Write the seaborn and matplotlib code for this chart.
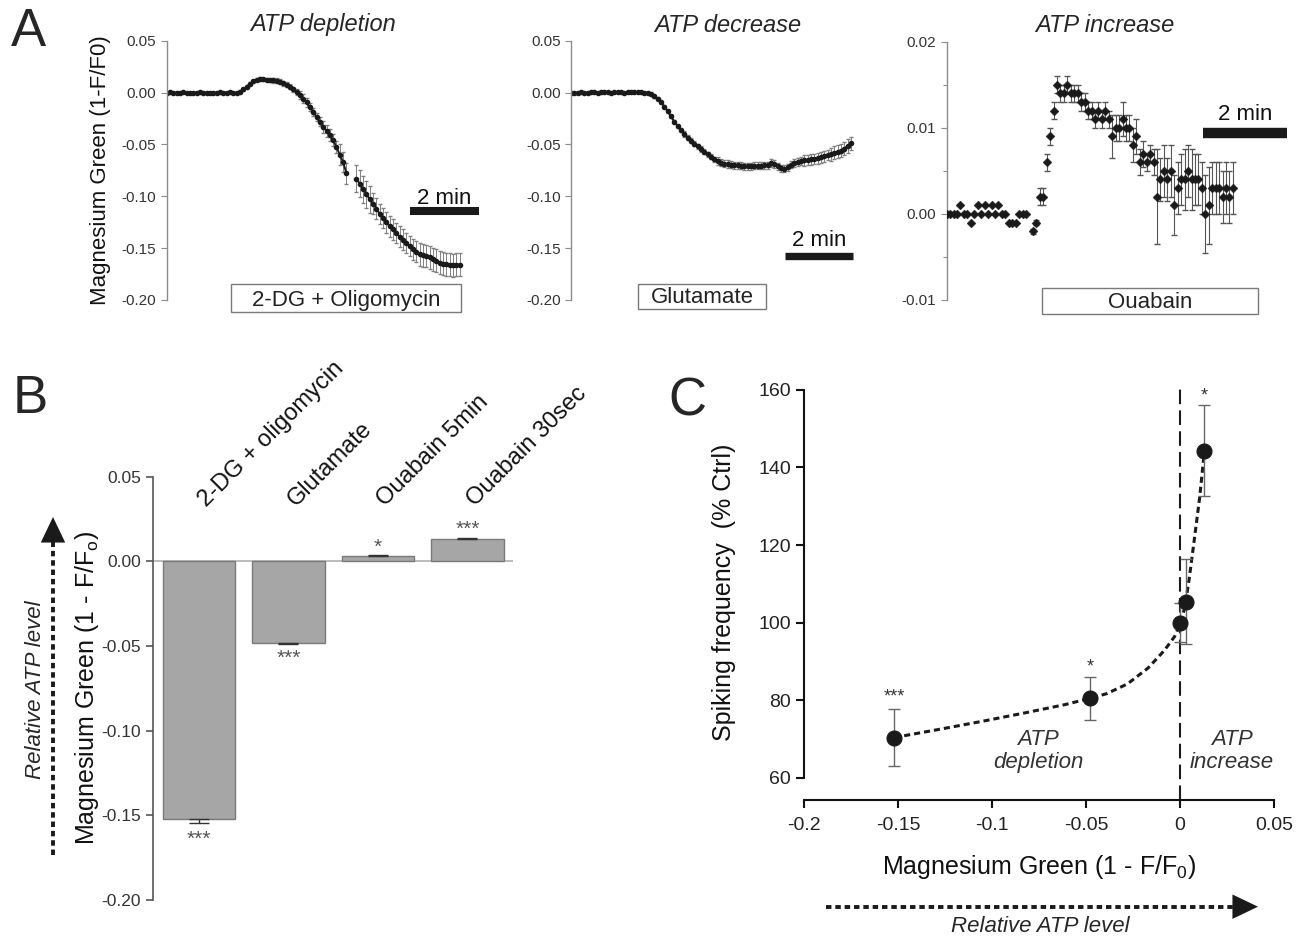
import numpy as np
import pandas as pd
import matplotlib
matplotlib.use("Agg")
import matplotlib.pyplot as plt
from matplotlib.patches import Rectangle, FancyArrowPatch
from matplotlib.lines import Line2D
from matplotlib.ticker import FormatStrFormatter
import seaborn as sns

sns.set_theme(style="ticks")
plt.rcParams["font.family"] = ["Liberation Sans", "DejaVu Sans"]
plt.rcParams["mathtext.fontset"] = "custom"
plt.rcParams["mathtext.rm"] = "Liberation Sans"
plt.rcParams["axes.unicode_minus"] = False

W, H = 1301, 939

# ---- Panel A: Magnesium Green traces (values x 1000), one per sample ----
depletion_vals = [0, 0.3, 0, -0.3, 0, 0.2, 0, -0.5, -0.3, 0, 0.3, 0, -0.2, -0.5, -0.3, 0, 0.2, -0.3, 0, 0.3, -0.5, -0.3,
                  1.0, 3.0, 5.5, 8.5, 11, 12.5, 13.5, 13, 12.5, 12, 11.8, 11.5, 10.5, 9, 7.5, 5.5, 3, 0.5,
                  -2.5, -5.8, -9.5, -14, -18.5, -23.5, -28, -33, -37, -41, -46, -52.5, -60, -67, -78,
                  np.nan, np.nan,
                  -83, -88, -93, -98, -103, -107, -112, -117, -121, -125, -129, -132, -135.5, -139, -142, -145,
                  -148, -151, -153.5, -156, -157, -157.5, -159, -160.6, -162, -164, -165, -165.5, -166, -166.5,
                  -166, -166]
depletion_err = [0.8] * 22 + [1.5] * 10 + [2.5] * 8 + [4] * 7 + [6] * 5 + [10] * 3 + [0] * 2 + [13] * 5 + [10] * 14 + [11] * 13

decrease_vals = [0, -0.3, 0, 0.3, 0, -0.3, 0.5, 0.3, 0, 0.3, 0.5, 0.3, 0, 0.3, 0.5, 0.3, 0, 0.3, 0.6, 0.3, 0.5, 0.3, 0, -0.3,
                 -1.5, -3.5, -6, -9.5, -13.5, -18, -23, -28, -32.5, -36.5,
                 -40, -43.5, -46.5, -49.5, -52, -54.5, -57, -59.5, -62, -64.5,
                 -66, -67.5, -68.5, -69, -69.5, -70, -70, -70.5, -71, -71,
                 -71, -70.5, -70.5, -70.5, -70, -70, -68, -69, -71, -73,
                 -73.5, -72, -69.5, -68, -67, -66, -65.5, -65, -64.5, -64,
                 -63.5, -62.5, -61.5, -60.5, -59.5, -58, -57, -56, -54, -51.5, -49]
decrease_err = [1] * 24 + [1.5] * 10 + [2.5] * 10 + [3.5] * 26 + [5] * 8 + [6.5] * 7

increase_vals = [0, 0, 0, 0, 1, 0, 0, -1, 0, 1, 0, 1, 0, 1, 0, 1, 0, 0, -1, -1,
                 -1, 0, 0, 0, np.nan, -2, -1, 2, 2, 6, 9, 12, 15, 14, 14, 15, 14, 14, 14, 13,
                 13, 12, 12, 11, 12, 11, 12, 11, 9, 10, 10, 11, 10, 10, 8, 9, 6, 7, 6, 7,
                 6, 2, 4, 5, 4, 5, 1, 3, 4, 4, 5, 4, 4, 4, 3, 0, 1, 3, 3, 3, 2, 3, 2, 3]
increase_err = ([0] * 25 + [0.3, 0.3] + [1] * 21
                + [2.5, 1.5, 1.5, 2, 1.5, 1.5, 2, 2, 1.5, 1.5, 1, 1, 1.5]
                + [5.5, 2.5, 3, 2.5, 3, 3.5, 3, 3, 3.5, 3, 3.5, 3, 3, 3, 4.5, 4.5, 3, 3, 3, 3, 3, 3, 3])

# ---- Panel B ----
b_labels = ["2-DG + oligomycin", "Glutamate", "Ouabain 5min", "Ouabain 30sec"]
b_values = [-0.152, -0.0484, 0.0031, 0.0133]
b_err = [0.0028, 0.0006, 0.0005, 0.0004]
b_stars = ["***", "***", "*", "***"]
b_star_y = [-0.164, -0.057, 0.008, 0.019]

# ---- Panel C ----
c_x = [-0.152, -0.048, 0.0, 0.003, 0.013]
c_y = [70.4, 80.5, 100.0, 105.4, 144.3]
c_err = [7.4, 5.5, 5.0, 11.0, 11.7]
c_stars = ["***", "*", "", "", "*"]
c_star_y = [80.8, 88.5, 0, 0, 158.5]
fit_x = [-0.152, -0.127, -0.105, -0.083, -0.061, -0.048, -0.039, -0.028, -0.017, -0.0084, -0.0029,
         0.0, 0.0026, 0.0048, 0.0075, 0.0104, 0.013]
fit_y = [70.4, 72.6, 74.6, 76.7, 78.9, 80.5, 81.7, 84.2, 88.3, 92.8, 96.4,
         99.5, 104, 111, 121, 132, 144.3]

fig = plt.figure(figsize=(W / 100, H / 100), dpi=100)


def add_ax(x0, y0, x1, y1):
    return fig.add_axes([x0 / W, 1 - y1 / H, (x1 - x0) / W, (y1 - y0) / H])


def ftext(x, y, s, **kw):
    fig.text(x / W, 1 - y / H, s, **kw)


def dotted_arrow(x0, y0, x1, y1, head=22):
    # dotted shaft in figure pixels, solid filled head at (x1, y1)
    dx, dy = x1 - x0, y1 - y0
    n = np.hypot(dx, dy)
    ex, ey = x1 - dx / n * head * 0.8, y1 - dy / n * head * 0.8
    fig.add_artist(Line2D([x0 / W, ex / W], [1 - y0 / H, 1 - ey / H], transform=fig.transFigure,
                          color="k", lw=2.8, ls=(0, (1.4, 1.0)), solid_capstyle="butt"))
    hx, hy = x1 - dx / n * head, y1 - dy / n * head
    fig.add_artist(FancyArrowPatch(
        (hx / W, 1 - hy / H), (x1 / W, 1 - y1 / H), transform=fig.transFigure,
        arrowstyle="-|>,head_length=1.15,head_width=0.55", mutation_scale=16,
        color="k", lw=0, shrinkA=0, shrinkB=0))


def style_trace(ax, ylim, yticks):
    ax.set_ylim(*ylim)
    ax.set_yticks(yticks)
    ax.yaxis.set_major_formatter(FormatStrFormatter("%.2f"))
    for s in ["top", "right", "bottom"]:
        ax.spines[s].set_visible(False)
    ax.spines["left"].set_color("#8c8c8c")
    ax.spines["left"].set_linewidth(1)
    ax.tick_params(axis="y", which="both", width=0.8, color="#8c8c8c",
                   labelcolor="#333333", labelsize=11)
    ax.tick_params(axis="y", which="major", length=4)
    ax.tick_params(axis="y", which="minor", length=3)
    ax.tick_params(axis="x", bottom=False, labelbottom=False)
    ax.set_facecolor("none")


def box(ax, x0, x1, y0, y1, label):
    ax.add_patch(Rectangle((x0, y1), x1 - x0, y0 - y1, facecolor="white",
                           edgecolor="#7a7a7a", lw=1, clip_on=False))
    ax.text((x0 + x1) / 2, y1 + 0.24 * (y0 - y1), label, ha="center", va="baseline",
            fontsize=16, color="#222222", clip_on=False)


def scale_bar(ax, x0, x1, y, ytxt, lw):
    ax.plot([x0, x1], [y, y], color="k", lw=lw, solid_capstyle="butt", clip_on=False)
    ax.text((x0 + x1) / 2, ytxt, "2 min", ha="center", va="baseline", fontsize=16,
            color="#111111")


# A1: ATP depletion
a1 = add_ax(166.7, 40.7, 490, 300)
t1 = np.arange(len(depletion_vals)) * 0.0965
a1.errorbar(t1, np.array(depletion_vals) / 1000, yerr=np.array(depletion_err) / 1000,
            fmt="o-", ms=3, lw=1.4, color="k", ecolor="#808080", elinewidth=0.7, capsize=1.5)
a1.set_xlim(0, (490 - 166.7) / 34.5)
style_trace(a1, (-0.2, 0.05), [0.05, 0.0, -0.05, -0.10, -0.15, -0.20])
a1.set_ylabel("Magnesium Green (1-F/F0)", fontsize=16, labelpad=8, color="#111111")
scale_bar(a1, 7.05, 9.05, -0.1144, -0.107, 5.8)
box(a1, 1.864, 8.53, -0.1849, -0.2118, "2-DG + Oligomycin")

# A2: ATP decrease
a2 = add_ax(571, 40.7, 870, 300)
t2 = np.arange(len(decrease_vals)) * 0.098
a2.errorbar(t2, np.array(decrease_vals) / 1000, yerr=np.array(decrease_err) / 1000,
            fmt="o-", ms=3, lw=1.4, color="k", ecolor="#808080", elinewidth=0.7, capsize=1.5)
a2.set_xlim(0, (870 - 571) / 34)
style_trace(a2, (-0.2, 0.05), [0.05, 0.0, -0.05, -0.10, -0.15, -0.20])
scale_bar(a2, 6.29, 8.29, -0.1577, -0.148, 5.3)
box(a2, 1.97, 5.735, -0.1849, -0.209, "Glutamate")

# A3: ATP increase
a3 = add_ax(946.7, 41.7, 1295, 300)
t3 = np.arange(len(increase_vals)) * 0.0821
inc = np.array(increase_vals) / 1000
a3.errorbar(t3, inc, yerr=np.array(increase_err) / 1000, fmt="none",
            ecolor="#555555", elinewidth=0.8, capsize=2.5)
sns.scatterplot(x=t3, y=inc, marker="D", s=20, color="k", edgecolor="k", ax=a3, zorder=4)
a3.set_xlim(0, (1295 - 946.7) / 42)
style_trace(a3, (-0.01, 0.02), [0.02, 0.01, 0.0, -0.01])
a3.set_yticks([0.015, 0.005, -0.005], minor=True)
scale_bar(a3, 6.1, 8.1, 0.00934, 0.01085, 7.5)
box(a3, 2.27, 7.40, -0.00857, -0.0116, "Ouabain")
a3.set_xlabel("")
a3.set_ylabel("")

ftext(323, 25, "ATP depletion", ha="center", va="center", style="italic", fontsize=17)
ftext(728, 25, "ATP decrease", ha="center", va="center", style="italic", fontsize=17)
ftext(1105, 25, "ATP increase", ha="center", va="center", style="italic", fontsize=17)

# ---- Panel B ----
axb = add_ax(153, 476.7, 513, 900)
df_b = pd.DataFrame({"treatment": b_labels, "value": b_values})
sns.barplot(data=df_b, x="treatment", y="value", color="#a6a6a6", saturation=1,
            width=0.81, edgecolor="#7a7a7a", linewidth=1, errorbar=None, ax=axb)
for i, (v, e) in enumerate(zip(b_values, b_err)):
    yerr = [[e], [0]] if v < 0 else [[0], [e]]
    axb.errorbar(i, v, yerr=yerr, fmt="none", ecolor="#333333", elinewidth=1, capsize=7)
    axb.text(i, b_star_y[i], b_stars[i], ha="center", va="center", fontsize=15, color="#555555")
    axb.text(i + 0.12, 0.030, b_labels[i], rotation=45, rotation_mode="anchor",
             ha="left", va="bottom", fontsize=17, color="#111111")
axb.axhline(0, color="#b0b0b0", lw=1.2, zorder=0)
axb.set_xlim(-0.514, 3.51)
axb.set_ylim(-0.2, 0.05)
axb.set_yticks([0.05, 0.0, -0.05, -0.10, -0.15, -0.20])
axb.yaxis.set_major_formatter(FormatStrFormatter("%.2f"))
for s in ["top", "right", "bottom"]:
    axb.spines[s].set_visible(False)
axb.spines["left"].set_color("#555555")
axb.spines["left"].set_linewidth(1.2)
axb.tick_params(axis="y", length=5, width=1.2, color="#555555", labelcolor="#333333", labelsize=12.5)
axb.tick_params(axis="x", bottom=False, labelbottom=False)
axb.set_xlabel("")
axb.set_ylabel("Magnesium Green (1 - F/F$_\\mathrm{o}$)", fontsize=18, labelpad=0, color="#111111")
axb.set_facecolor("none")

ftext(35.6, 690, "Relative ATP level", rotation=90, ha="center", va="center",
      style="italic", fontsize=16)
dotted_arrow(53, 855, 53, 517, head=24)

# ---- Panel C ----
axc = add_ax(804, 384, 1274, 800)
axc.axvline(0, color="k", lw=1.5, ls=(0, (7, 3)), zorder=1)
sns.lineplot(x=fit_x, y=fit_y, color="k", lw=2.2, linestyle=(0, (2, 1.3)), ax=axc, zorder=2)
axc.errorbar(c_x, c_y, yerr=c_err, fmt="none", ecolor="#666666", elinewidth=1, capsize=4, zorder=3)
sns.scatterplot(x=c_x, y=c_y, s=115, color="k", edgecolor="k", ax=axc, zorder=5)
for x, s, y in zip(c_x, c_stars, c_star_y):
    if s:
        axc.text(x, y, s, ha="center", va="center", fontsize=13, color="#333333")
axc.text(-0.0755, 67, "ATP\ndepletion", ha="center", va="center", style="italic",
         fontsize=16, color="#333333", linespacing=1.15)
axc.text(0.0277, 67, "ATP\nincrease", ha="center", va="center", style="italic",
         fontsize=16, color="#333333", linespacing=1.15)
axc.set_xlim(-0.2, 0.05)
axc.set_ylim(54.3, 161.5)
axc.set_yticks([60, 80, 100, 120, 140, 160])
axc.set_xticks([-0.2, -0.15, -0.1, -0.05, 0, 0.05])
axc.set_xticklabels(["-0.2", "-0.15", "-0.1", "-0.05", "0", "0.05"])
axc.spines["left"].set_bounds(60, 160)
axc.spines["bottom"].set_bounds(-0.2, 0.05)
for s in ["top", "right"]:
    axc.spines[s].set_visible(False)
for s in ["left", "bottom"]:
    axc.spines[s].set_linewidth(1.5)
    axc.spines[s].set_color("#111111")
axc.tick_params(length=6, width=1.5, color="#111111", labelcolor="#222222", labelsize=14)
axc.tick_params(axis="x", pad=6)
axc.set_xlabel("Magnesium Green (1 - F/F$_0$)", fontsize=18, labelpad=14, color="#111111")
axc.set_ylabel("Spiking frequency  (% Ctrl)", fontsize=18, labelpad=16, color="#111111")
axc.set_facecolor("none")

dotted_arrow(826, 906.7, 1258, 906.7, head=26)
ftext(1040, 927, "Relative ATP level", ha="center", va="center", style="italic", fontsize=16)

# panel letters
ftext(28, 32, "A", ha="center", va="center", fontsize=38)
ftext(30, 399, "B", ha="center", va="center", fontsize=38)
ftext(687, 402, "C", ha="center", va="center", fontsize=38)

fig.savefig("out.png", dpi=100)
